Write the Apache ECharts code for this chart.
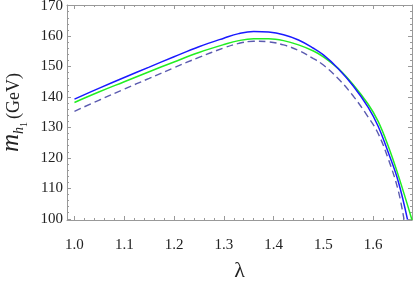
<!DOCTYPE html>
<html>
<head>
<meta charset="utf-8">
<script src="https://cdn.jsdelivr.net/npm/echarts@6/dist/echarts.min.js"></script>
<style>
  html, body { margin: 0; padding: 0; background: #fff; }
  #chart { width: 415px; height: 283px; }
</style>
</head>
<body>
<div id="chart"></div>
<script>
  // curve data (lambda -> m_h1 in GeV)
  const lamBlue = [1.00, 1.05, 1.10, 1.15, 1.20, 1.25, 1.30, 1.33, 1.36, 1.39, 1.42, 1.45, 1.48, 1.50, 1.53, 1.56, 1.59, 1.61, 1.63, 1.65, 1.669]
  const mBlue = [139.3, 142.9, 146.4, 149.8, 153.2, 156.5, 159.3, 160.8, 161.5, 161.3, 160.4, 158.7, 156.0, 153.8, 149.3, 143.6, 136.6, 130.4, 121.9, 112.5, 99.7]

  const lamGreen = [1.00, 1.05, 1.10, 1.15, 1.20, 1.25, 1.30, 1.33, 1.36, 1.39, 1.42, 1.45, 1.48, 1.50, 1.53, 1.56, 1.59, 1.61, 1.63, 1.65, 1.678]
  const mGreen = [138.2, 141.7, 145.0, 148.3, 151.5, 154.6, 157.2, 158.5, 159.1, 159.1, 158.5, 157.1, 155.1, 153.2, 149.3, 144.0, 137.6, 132.0, 124.0, 114.5, 99.6]

  const lamDash = [1.00, 1.05, 1.10, 1.15, 1.20, 1.25, 1.30, 1.33, 1.36, 1.39, 1.42, 1.45, 1.48, 1.50, 1.53, 1.56, 1.59, 1.61, 1.63, 1.65, 1.662]
  const mDash = [135.3, 139.0, 142.6, 146.1, 149.6, 153.0, 156.1, 157.6, 158.3, 158.1, 157.1, 155.3, 152.6, 150.5, 146.0, 140.3, 133.4, 128.0, 119.8, 109.5, 99.7]

  const xMajor = [1.0, 1.1, 1.2, 1.3, 1.4, 1.5, 1.6]
  const xMinor = [1.02, 1.04, 1.06, 1.08, 1.12, 1.14, 1.16, 1.18, 1.22, 1.24, 1.26, 1.28, 1.32, 1.34, 1.36, 1.38,
    1.42, 1.44, 1.46, 1.48, 1.52, 1.54, 1.56, 1.58, 1.62, 1.64, 1.66]
  const yMajor = [100, 110, 120, 130, 140, 150, 160, 170]
  const yMinor = [102, 104, 106, 108, 112, 114, 116, 118, 122, 124, 126, 128, 132, 134, 136, 138,
    142, 144, 146, 148, 152, 154, 156, 158, 162, 164, 166, 168]

  const X_MIN = 0.985
  const X_MAX = 1.678
  const Y_MIN = 99.6
  const Y_MAX = 170.2

  const frameColor = '#999'
  const serif = '"Liberation Serif", "DejaVu Serif", serif'

  const pairs = (xs, ys) => xs.map((x, i) => [x, ys[i]])

  // one helper for the framed axes: major / minor ticks drawn inside
  function xAx(pos, ticks, len, showLine, showLabel) {
    return {
      type: 'value', position: pos, min: X_MIN, max: X_MAX,
      axisLine: { show: showLine, onZero: false, lineStyle: { color: frameColor, width: 1 } },
      axisTick: { show: true, inside: true, length: len, customValues: ticks, lineStyle: { color: frameColor } },
      axisLabel: {
        show: showLabel, customValues: ticks, margin: 18,
        fontFamily: serif, fontSize: 15, color: '#222',
        formatter: v => v.toFixed(1)
      },
      splitLine: { show: false }
    }
  }
  function yAx(pos, ticks, len, showLine, showLabel) {
    return {
      type: 'value', position: pos, min: Y_MIN, max: Y_MAX,
      axisLine: { show: showLine, onZero: false, lineStyle: { color: frameColor, width: 1 } },
      axisTick: { show: true, inside: true, length: len, customValues: ticks, lineStyle: { color: frameColor } },
      axisLabel: {
        show: showLabel, customValues: ticks, margin: 4,
        fontFamily: serif, fontSize: 15, color: '#222'
      },
      splitLine: { show: false }
    }
  }

  const xAxes = [
    xAx('bottom', xMajor, 4, true, true),
    xAx('bottom', xMinor, 2, false, false),
    xAx('top', xMajor, 4, true, false),
    xAx('top', xMinor, 2, false, false)
  ]
  xAxes[0].name = 'λ'
  xAxes[0].nameLocation = 'middle'
  xAxes[0].nameGap = 40
  xAxes[0].nameTextStyle = { fontFamily: serif, fontSize: 22, color: '#222' }

  const yAxes = [
    yAx('left', yMajor, 4, true, true),
    yAx('left', yMinor, 2, false, false),
    yAx('right', yMajor, 4, true, false),
    yAx('right', yMinor, 2, false, false)
  ]
  yAxes[0].name = '{m|m}{h|h}{one|1}{g|(GeV)}'
  yAxes[0].nameLocation = 'middle'
  yAxes[0].nameRotate = 90
  yAxes[0].nameGap = 38
  yAxes[0].nameTextStyle = {
    fontFamily: serif, color: '#222',
    rich: {
      m: { fontFamily: serif, fontSize: 25, fontStyle: 'italic', color: '#222', verticalAlign: 'bottom' },
      h: { fontFamily: serif, fontSize: 14, fontStyle: 'italic', color: '#222', verticalAlign: 'bottom', padding: [0, 0, -3, 0] },
      one: { fontFamily: serif, fontSize: 10, color: '#222', verticalAlign: 'bottom', padding: [0, 3, -6, 0] },
      g: { fontFamily: serif, fontSize: 18, color: '#222', verticalAlign: 'bottom' }
    }
  }

  const chart = echarts.init(document.getElementById('chart'))
  chart.setOption({
    animation: false,
    backgroundColor: '#fff',
    grid: { left: 67, right: 3, top: 5, bottom: 63, outerBoundsMode: 'none' },
    xAxis: xAxes,
    yAxis: yAxes,
    series: [
      {
        name: 'dashed', type: 'line', xAxisIndex: 0, yAxisIndex: 0,
        data: pairs(lamDash, mDash), smooth: 0.4, showSymbol: false, clip: true,
        lineStyle: { color: '#5b5bb0', width: 1.4, type: [7, 4] }
      },
      {
        name: 'green', type: 'line', xAxisIndex: 0, yAxisIndex: 0,
        data: pairs(lamGreen, mGreen), smooth: 0.4, showSymbol: false, clip: true,
        lineStyle: { color: '#22ee22', width: 1.5 }
      },
      {
        name: 'blue', type: 'line', xAxisIndex: 0, yAxisIndex: 0,
        data: pairs(lamBlue, mBlue), smooth: 0.4, showSymbol: false, clip: true,
        lineStyle: { color: '#1a1aff', width: 1.5 }
      }
    ]
  })
</script>
</body>
</html>
